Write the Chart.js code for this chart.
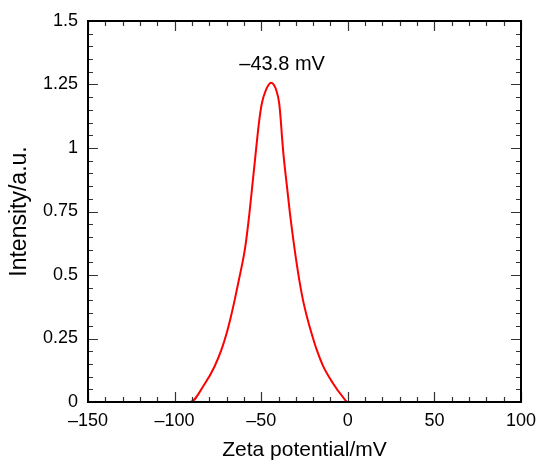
<!DOCTYPE html>
<html>
<head>
<meta charset="utf-8">
<script src="https://cdn.jsdelivr.net/npm/chart.js@4/dist/chart.umd.min.js"></script>
<style>
  html, body { margin: 0; padding: 0; background: #fff; }
  #wrap { width: 537px; height: 461px; }
</style>
</head>
<body>
<div id="wrap"><canvas id="zetaChart" width="537" height="461"></canvas></div>
<script>
// zeta potential distribution
const zetaMv = [-150, -91, -82.4, -77.0, -73.0, -70.0, -67.5, -65.3, -62.9, -59.2, -56.8, -55.3, -54.2, -53.2, -52.2, -51.1, -49.6, -47.3, -44.3, -41.3, -39.6, -38.7, -38.0, -37.2, -36.2, -35.0, -33.4, -30.9, -28.0, -25.9, -23.6, -20.9, -17.9, -14.1, -8.6, -3.0, 0, 100];
const intensity = [0, 0, 0.074, 0.139, 0.205, 0.270, 0.336, 0.402, 0.480, 0.611, 0.743, 0.841, 0.913, 0.979, 1.044, 1.110, 1.176, 1.228, 1.257, 1.228, 1.176, 1.110, 1.044, 0.979, 0.913, 0.841, 0.743, 0.611, 0.480, 0.402, 0.336, 0.270, 0.205, 0.139, 0.074, 0.021, 0, 0];

const xTicks = [-150, -100, -50, 0, 50, 100];
const yTicks = [0, 0.25, 0.5, 0.75, 1, 1.25, 1.5];
const xMinorStep = 10;
const yMinorStep = 0.05;

const peakLabel = '\u201343.8 mV';
const peakX = -44.3;
const peakY = 1.257;

const FONT = "'Liberation Sans', Arial, Helvetica, sans-serif";

// inward ticks on all four sides + peak label
const frameTicks = {
  id: 'frameTicks',
  afterDatasetsDraw(chart) {
    const ctx = chart.ctx;
    const xs = chart.scales.x, ys = chart.scales.y;
    const a = chart.chartArea;
    ctx.save();
    ctx.strokeStyle = '#333';
    ctx.lineWidth = 1.2;
    ctx.beginPath();
    for (let v = xs.min; v <= xs.max + 1e-9; v += xMinorStep) {
      const px = Math.round(xs.getPixelForValue(v)) + 0.5;
      const len = xTicks.includes(Math.round(v)) ? 10 : 5;
      ctx.moveTo(px, a.bottom); ctx.lineTo(px, a.bottom - len);
      ctx.moveTo(px, a.top); ctx.lineTo(px, a.top + len);
    }
    for (let i = 0; i <= Math.round((ys.max - ys.min) / yMinorStep); i++) {
      const v = ys.min + i * yMinorStep;
      const py = Math.round(ys.getPixelForValue(v)) + 0.5;
      const len = (i % 5 === 0) ? 10 : 5;
      ctx.moveTo(a.left, py); ctx.lineTo(a.left + len, py);
      ctx.moveTo(a.right, py); ctx.lineTo(a.right - len, py);
    }
    ctx.stroke();

    // frame
    ctx.strokeStyle = '#000';
    ctx.lineWidth = 2;
    ctx.strokeRect(a.left, a.top, a.right - a.left, a.bottom - a.top);

    // peak annotation
    ctx.fillStyle = '#000';
    ctx.font = '20px ' + FONT;
    ctx.textAlign = 'center';
    ctx.textBaseline = 'middle';
    ctx.fillText(peakLabel, xs.getPixelForValue(peakX) + 11, ys.getPixelForValue(peakY) - 18);
    ctx.restore();
  }
};

document.addEventListener('DOMContentLoaded', function () {
  const el = document.getElementById('zetaChart');
  new Chart(el.getContext('2d'), {
    type: 'scatter',
    data: {
      datasets: [{
        data: zetaMv.map((x, i) => ({ x: x, y: intensity[i] })),
        showLine: true,
        borderColor: '#ff0000',
        borderWidth: 2,
        pointRadius: 0,
        cubicInterpolationMode: 'monotone',
        fill: false
      }]
    },
    options: {
      responsive: false,
      animation: false,
      layout: { autoPadding: false, padding: { top: 21, right: 16, left: 0, bottom: 0 } },
      plugins: { legend: { display: false }, tooltip: { enabled: false } },
      scales: {
        x: {
          type: 'linear',
          min: -150, max: 100,
          afterBuildTicks: (s) => { s.ticks = xTicks.map(v => ({ value: v })); },
          afterFit: (s) => { s.height = 59; s.paddingLeft = 0; s.paddingRight = 0; },
          grid: { display: false, drawTicks: false },
          border: { display: false },
          ticks: {
            padding: 8,
            color: '#000',
            font: { family: FONT, size: 18 },
            maxRotation: 0,
            callback: (v) => String(v).replace('-', '\u2013')
          },
          title: {
            display: true,
            text: 'Zeta potential/mV',
            color: '#000',
            font: { family: FONT, size: 21 },
            padding: { top: 0, bottom: -2 }
          }
        },
        y: {
          type: 'linear',
          min: 0, max: 1.5,
          afterBuildTicks: (s) => { s.ticks = yTicks.map(v => ({ value: v })); },
          afterFit: (s) => { s.width = 88; s.paddingTop = 0; s.paddingBottom = 0; },
          grid: { display: false, drawTicks: false },
          border: { display: false },
          ticks: {
            padding: 10,
            color: '#000',
            font: { family: FONT, size: 18 },
            callback: (v) => String(v)
          },
          title: {
            display: true,
            text: 'Intensity/a.u.',
            color: '#000',
            font: { family: FONT, size: 23 },
            padding: { top: 6, bottom: 0 }
          }
        }
      }
    },
    plugins: [frameTicks]
  });
});
</script>
</body>
</html>
